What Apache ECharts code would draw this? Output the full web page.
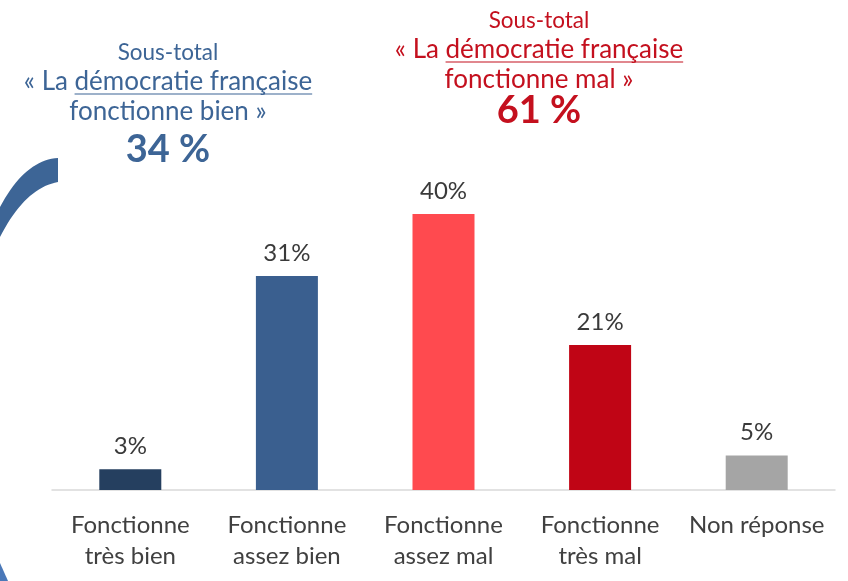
<!DOCTYPE html>
<html><head><meta charset="utf-8">
<script src="https://cdn.jsdelivr.net/npm/echarts@6/dist/echarts.min.js"></script>
<style>html,body{margin:0;padding:0;background:#fff}#c{width:848px;height:581px}</style>
</head><body><div id="c"></div>
<script>
var categories = ['Fonctionne\ntrès bien', 'Fonctionne\nassez bien', 'Fonctionne\nassez mal', 'Fonctionne\ntrès mal', 'Non réponse'];
var values = [3, 31, 40, 21, 5];
var barColors = ['#253f5f', '#3a5f8f', '#ff4a4f', '#c00515', '#a5a5a5'];
var leftTitle = ['Sous-total', '« La ', 'démocratie française', 'fonctionne bien »', '34 %'];
var rightTitle = ['Sous-total', '« La ', 'démocratie française', 'fonctionne mal »', '61 %'];

var FONT = 'Lato, "Noto Sans", sans-serif';
var ctx = document.createElement('canvas').getContext('2d');
function tw(t, weight, size) { ctx.font = weight + ' ' + size + 'px ' + FONT; return ctx.measureText(t).width; }

function titleBlock(lines, cx, ys, color) {
  var els = [];
  var s1 = 22.5, s2 = 26, s4 = 38;
  els.push({type:'text', style:{text:lines[0], x:cx, y:ys[0], textAlign:'center', textVerticalAlign:'bottom', fill:color, font:'normal '+s1+'px '+FONT}});
  var l2 = lines[1] + lines[2];
  els.push({type:'text', style:{text:l2, x:cx, y:ys[1], textAlign:'center', textVerticalAlign:'bottom', fill:color, font:'normal '+s2+'px '+FONT}});
  var W = tw(l2, 'normal', s2), P = tw(lines[1], 'normal', s2);
  var x0 = cx - W/2 + P, x1 = cx + W/2;
  els.push({type:'line', shape:{x1:x0, y1:ys[1]-1, x2:x1, y2:ys[1]-1}, style:{stroke:color, lineWidth:1.2}});
  els.push({type:'text', style:{text:lines[3], x:cx, y:ys[2], textAlign:'center', textVerticalAlign:'bottom', fill:color, font:'normal '+s2+'px '+FONT}});
  els.push({type:'text', style:{text:lines[4], x:cx, y:ys[3], textAlign:'center', textVerticalAlign:'bottom', fill:color, font:'bold '+s4+'px '+FONT}});
  return els;
}

function quad(p0, c, p1, n) {
  var pts = [];
  for (var i = 0; i <= n; i++) {
    var t = i / n, a = (1-t)*(1-t), b = 2*(1-t)*t, d = t*t;
    pts.push([a*p0[0]+b*c[0]+d*p1[0], a*p0[1]+b*c[1]+d*p1[1]]);
  }
  return pts;
}
var arcPts = quad([58,158],[25,160],[0,207],20).concat(quad([0,237],[25,188],[58,182],20));

var chart = echarts.init(document.getElementById('c'), null, {renderer:'canvas'});
var graphics = [].concat(
  titleBlock(leftTitle, 168, [64, 95, 125, 169], '#3d6596'),
  titleBlock(rightTitle, 539, [32, 63, 93, 130], '#c4101e'),
  [
    {type:'polygon', shape:{points:arcPts}, style:{fill:'#3d6596'}},
    {type:'polygon', shape:{points:[[0,563],[8,581],[0,581]]}, style:{fill:'#4a78b8'}}
  ]
);
chart.setOption({
  animation:false,
  grid:{left:52, right:13, top:145, bottom:91},
  xAxis:{type:'category', data:categories,
    axisLine:{lineStyle:{color:'#d9d9d9', width:1.5}}, axisTick:{show:false},
    axisLabel:{interval:0, color:'#404040', fontFamily:FONT, fontSize:24, lineHeight:31, margin:20}},
  yAxis:{type:'value', min:0, max:50, show:false, splitLine:{show:false}},
  series:[{type:'bar', barWidth:62,
    data: values.map(function(v,i){return {value:v, itemStyle:{color:barColors[i]}};}),
    label:{show:true, position:'top', distance:11, formatter:'{c}%', color:'#3a3a3a', fontFamily:FONT, fontSize:24}}],
  graphic: graphics
});
</script></body></html>
